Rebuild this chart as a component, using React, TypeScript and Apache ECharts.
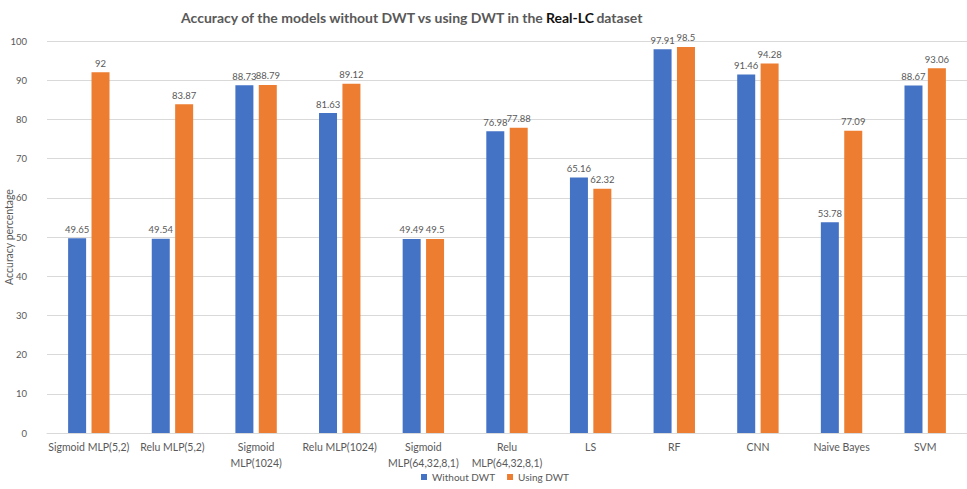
import React, { useEffect, useRef } from "react";
import * as echarts from "echarts";

const categories = [
  "Sigmoid MLP(5,2)",
  "Relu MLP(5,2)",
  "Sigmoid\nMLP(1024)",
  "Relu MLP(1024)",
  "Sigmoid\nMLP(64,32,8,1)",
  "Relu\nMLP(64,32,8,1)",
  "LS",
  "RF",
  "CNN",
  "Naive Bayes",
  "SVM",
];

const withoutDWT = [49.65, 49.54, 88.73, 81.63, 49.49, 76.98, 65.16, 97.91, 91.46, 53.78, 88.67];
const usingDWT = [92, 83.87, 88.79, 89.12, 49.5, 77.88, 62.32, 98.5, 94.28, 77.09, 93.06];

const seriesNames = ["Without DWT", "Using DWT"];

const FONT = "Lato, 'Noto Sans', sans-serif";
const TEXT = "#595959";

export default function App() {
  const ref = useRef<HTMLDivElement>(null);

  useEffect(() => {
    document.body.style.margin = "0";
    let chart: echarts.ECharts | null = null;
    let cancelled = false;

    const draw = () => {
      if (cancelled || !ref.current) return;
      chart = echarts.init(ref.current, null, { renderer: "svg" });
      const label = {
        show: true,
        position: "top" as const,
        distance: 4,
        color: TEXT,
        fontSize: 9.5,
        fontFamily: FONT,
      };
      chart.setOption({
        animation: false,
        backgroundColor: "#ffffff",
        textStyle: { fontFamily: FONT },
        title: {
          left: 176,
          top: 5,
          text: "{a|Accuracy of the models without DWT vs using DWT in the}{b|Real-LC}{a|dataset}",
          textStyle: {
            fontSize: 14,
            fontWeight: "bold",
            color: TEXT,
            fontFamily: FONT,
            rich: {
              a: { fontSize: 14, fontWeight: "bold", color: TEXT, fontFamily: FONT },
              b: {
                fontSize: 14,
                fontWeight: "bold",
                color: "#111111",
                fontFamily: FONT,
                padding: [0, 2.5, 0, 1],
              },
            },
          },
        },
        legend: {
          bottom: 2,
          left: 416,
          icon: "rect",
          itemWidth: 6,
          itemHeight: 6,
          itemGap: 12,
          data: seriesNames,
          textStyle: { color: TEXT, fontSize: 10, fontFamily: FONT },
        },
        grid: {
          left: 47,
          right: 0,
          top: 41,
          bottom: 56,
          containLabel: false,
          outerBoundsMode: "none",
        },
        xAxis: {
          type: "category",
          data: categories,
          axisLine: { lineStyle: { color: "#d9d9d9" } },
          axisTick: { show: false },
          axisLabel: {
            interval: 0,
            color: TEXT,
            fontSize: 10.5,
            lineHeight: 16,
            margin: 6,
            fontFamily: FONT,
          },
        },
        yAxis: {
          type: "value",
          min: 0,
          max: 100,
          interval: 10,
          name: "Accuracy percentage",
          nameLocation: "middle",
          nameGap: 33,
          nameMoveOverlap: false,
          nameTextStyle: { color: TEXT, fontSize: 10.5, fontFamily: FONT },
          axisLine: { show: false },
          axisTick: { show: false },
          splitLine: { lineStyle: { color: "#d9d9d9" } },
          axisLabel: { color: TEXT, fontSize: 9.5, margin: 20, fontFamily: FONT },
        },
        series: [
          {
            name: seriesNames[0],
            type: "bar",
            data: withoutDWT,
            barWidth: 18,
            barGap: "30%",
            itemStyle: { color: "#4472C4" },
            label,
          },
          {
            name: seriesNames[1],
            type: "bar",
            data: usingDWT,
            barWidth: 18,
            itemStyle: { color: "#ED7D31" },
            label,
          },
        ],
      });
    };

    // Wait for Lato so that text measurement matches what is rendered
    const fonts = (document as any).fonts;
    if (fonts && fonts.load) {
      Promise.all([fonts.load("bold 14px Lato"), fonts.load("11px Lato")])
        .catch(() => undefined)
        .then(draw);
    } else {
      draw();
    }

    return () => {
      cancelled = true;
      if (chart) chart.dispose();
    };
  }, []);

  return (
    <div
      ref={ref}
      style={{ position: "absolute", left: 0, top: 0, width: 967, height: 489 }}
    />
  );
}
